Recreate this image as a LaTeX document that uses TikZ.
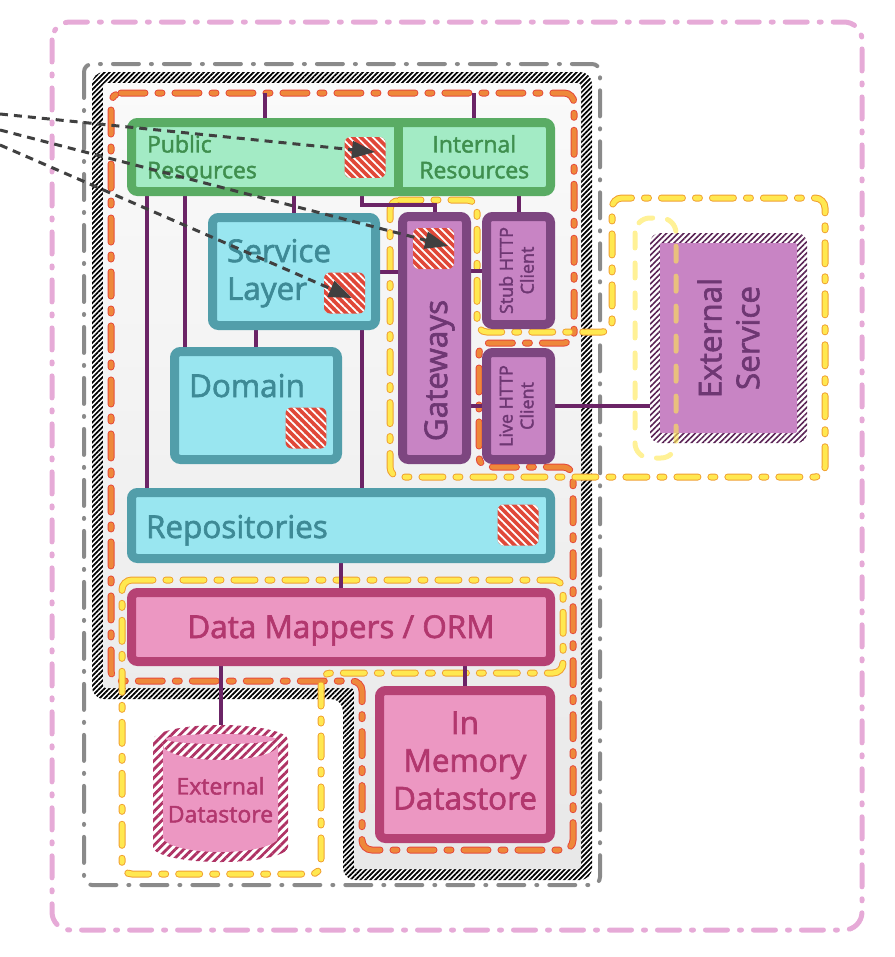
\documentclass[tikz,border=0pt]{standalone}
\usepackage{fontspec}
\setmainfont{Open Sans}[FakeBold=2]
\usepackage{tikz}
\usetikzlibrary{arrows.meta}
\usetikzlibrary{patterns.meta}
\definecolor{greenLine}{HTML}{5AAC64}
\definecolor{greenFill}{HTML}{A3EBC5}
\definecolor{greenInk}{HTML}{3F8F4E}
\definecolor{tealLine}{HTML}{529EAA}
\definecolor{tealFill}{HTML}{99E6F0}
\definecolor{tealInk}{HTML}{3E8A96}
\definecolor{purpleLine}{HTML}{7D4680}
\definecolor{purpleFill}{HTML}{C884C4}
\definecolor{purpleInk}{HTML}{6E3773}
\definecolor{pinkLine}{HTML}{B64274}
\definecolor{pinkFill}{HTML}{EC97C2}
\definecolor{pinkInk}{HTML}{B2376E}
\definecolor{wireInk}{HTML}{6B2466}
\definecolor{tagRed}{HTML}{E04838}
\definecolor{arrowInk}{HTML}{404040}
\definecolor{hatchPurple}{HTML}{5A2355}
\definecolor{hatchPink}{HTML}{AF3264}
\definecolor{grayDash}{HTML}{8A8A8A}
\definecolor{pinkDash}{HTML}{E6AAD7}
\definecolor{orangeDash}{HTML}{EE883A}
\definecolor{redEdge}{HTML}{E5493A}
\definecolor{yellowDash}{HTML}{FFE850}
\definecolor{yellowEdge}{HTML}{F0A030}
\definecolor{insideTop}{HTML}{FAFAFA}
\definecolor{insideBottom}{HTML}{E8E8E8}
\newcommand{\bigFont}{\fontsize{17.9}{21.5}\selectfont}
\newcommand{\midFont}{\fontsize{13.1}{14.7}\selectfont}
\newcommand{\smallFont}{\fontsize{10.2}{11.9}\selectfont}
\newcommand{\layerBox}[6]{%%
  %% A box given by the centre line of its border.
  \node[#1,minimum width={(#5-#3)*0.02cm},minimum height={(#6-#4)*0.02cm}] (#2) at ({(#3+#5)/2},{(#4+#6)/2}) {};
}
\newcommand{\redTag}[3]{%%
  %% A small striped marker.
  \node[tagStyle] (#1) at (#2,#3) {};
}
\newcommand{\systemBorder}{%%
  %% The hatched border round the system.
  \fill[white,rounded corners=0.24cm] (92,72) -- (592,72) -- (592,880) -- (343,880) -- (343,699) -- (92,699) -- cycle;
  \fill[hatchBlack,rounded corners=0.24cm] (92,72) -- (592,72) -- (592,880) -- (343,880) -- (343,699) -- (92,699) -- cycle;
  \shade[top color=insideTop,bottom color=insideBottom,rounded corners=0.06cm] (103,83) -- (581,83) -- (581,869) -- (354,869) -- (354,688) -- (103,688) -- cycle;
}
\newcommand{\externalDatastore}{%%
  %% The striped cylinder.
  \fill[white] (153,740) arc[start angle=180,end angle=360,x radius=67.5,y radius=15] -- (288,847) arc[start angle=0,end angle=180,x radius=67.5,y radius=15] -- cycle;
  \fill[hatchCylinder] (153,740) arc[start angle=180,end angle=360,x radius=67.5,y radius=15] -- (288,847) arc[start angle=0,end angle=180,x radius=67.5,y radius=15] -- cycle;
  \fill[pinkFill] (163,745) arc[start angle=180,end angle=0,x radius=57.5,y radius=15] -- (278,837) arc[start angle=0,end angle=180,x radius=57.5,y radius=15] -- cycle;
  \fill[pinkFill] (220.5,739) ellipse[x radius=55,y radius=5];
}
\pgfdeclarelayer{back}
\pgfdeclarelayer{wires}
\pgfsetlayers{back,wires,main}

\begin{document}
\begin{tikzpicture}[%%
  x=0.02cm,y=-0.02cm,%%
  boxStyle/.style={line width=0.18cm,rounded corners=0.12cm,inner sep=0pt,outer sep=0pt},%%
  greenFillStyle/.style={fill=greenFill,inner sep=0pt,outer sep=0pt},%%
  greenFrame/.style={draw=greenLine,line width=0.18cm,rounded corners=0.12cm},%%
  tealStyle/.style={boxStyle,draw=tealLine,fill=tealFill},%%
  purpleStyle/.style={boxStyle,draw=purpleLine,fill=purpleFill},%%
  pinkStyle/.style={boxStyle,draw=pinkLine,fill=pinkFill},%%
  plainStyle/.style={inner sep=0pt,outer sep=0pt},%%
  hatchOuter/.style={plainStyle,fill=white,rounded corners=0.2cm,%%
    postaction={pattern={Lines[angle=45,distance=2.3pt,line width=0.9pt]},pattern color=hatchPurple}},%%
  extBody/.style={plainStyle,fill=purpleFill,rounded corners=0.04cm},%%
  tagStyle/.style={plainStyle,minimum size=0.82cm,fill=tagRed,rounded corners=0.12cm,%%
    postaction={pattern={Lines[angle=-45,distance=3.2pt,line width=1pt]},pattern color=white}},%%
  hatchBlack/.style={pattern={Lines[angle=45,distance=2pt,line width=1pt]},pattern color=black},%%
  hatchCylinder/.style={pattern={Lines[angle=45,distance=3.4pt,line width=1.6pt]},pattern color=hatchPink},%%
  textStyle/.style={inner sep=0pt,outer sep=0pt},%%
  greenText/.style={textStyle,text=greenInk,font=\midFont},%%
  tealText/.style={textStyle,text=tealInk,font=\bigFont},%%
  purpleText/.style={textStyle,text=purpleInk,font=\bigFont},%%
  pinkText/.style={textStyle,text=pinkInk,font=\bigFont},%%
  wireStyle/.style={draw=wireInk,line width=0.08cm},%%
  arrowStyle/.style={draw=arrowInk,line width=0.06cm,dash pattern=on 0.16cm off 0.12cm,-{Triangle[length=0.46cm,width=0.34cm]}},%%
  pinkBorder/.style={draw=pinkDash,line width=0.1cm,line cap=round,rounded corners=0.36cm,%%
    dash pattern=on 0.44cm off 0.24cm on 0.04cm off 0.24cm},%%
  grayBorder/.style={draw=grayDash,line width=0.08cm,line cap=round,rounded corners=0.16cm,%%
    dash pattern=on 0.52cm off 0.24cm on 0.02cm off 0.24cm},%%
  orangeDashes/.style={line cap=round,dash pattern=on 0.48cm off 0.26cm on 0.08cm off 0.26cm},%%
  yellowDashes/.style={line cap=round,dash pattern=on 0.42cm off 0.26cm on 0.08cm off 0.26cm},%%
  orangeBorder/.style={draw=orangeDash,line width=0.1cm,orangeDashes,rounded corners=0.2cm,%%
    preaction={draw=redEdge,line width=0.14cm,orangeDashes}},%%
  yellowBorder/.style={draw=yellowDash,line width=0.1cm,yellowDashes,rounded corners=0.2cm,%%
    preaction={draw=yellowEdge,line width=0.14cm,yellowDashes}},%%
  paleBorder/.style={draw=yellowDash,draw opacity=0.6,line width=0.1cm,line cap=round,rounded corners=0.3cm,%%
    dash pattern=on 0.3cm off 0.3cm}%%
]
%%
%%
\useasboundingbox (0,0) rectangle (894,957);
%% Points outside the boxes.
\coordinate (sysTop) at (0,93);
\coordinate (srcPublic) at (0,114);
\coordinate (srcGateways) at (0,130);
\coordinate (srcService) at (0,145);
%%
%%
%% The boundaries.
\begin{pgfonlayer}{back}
\draw[pinkBorder] (52,22) rectangle (862,930);
\draw[grayBorder] (84,64) rectangle (600,885);
\systemBorder
\draw[orangeBorder] (111,93) -- (574,93) -- (574,343) -- (479,343) -- (479,467) -- (573,467) -- (573,850) -- (362,850) -- (362,681) -- (111,681) -- cycle;
\draw[yellowBorder] (390,200) -- (477,200) -- (477,332) -- (612,332) -- (612,198) -- (825,198) -- (825,477) -- (390,477) -- cycle;
\draw[yellowBorder] (122,580) -- (563,580) -- (563,673) -- (321,673) -- (321,874) -- (122,874) -- cycle;
\end{pgfonlayer}
%% The resources.
\layerBox{greenFillStyle}{public}{131.5}{122.5}{398}{191.5}
\layerBox{greenFillStyle}{internal}{398}{122.5}{550.5}{191.5}
\draw[greenFrame] (public.north west) rectangle (internal.south east);
\draw[greenFrame,rounded corners=0] (public.north east) -- (public.south east);
%% The layers.
\layerBox{tealStyle}{service}{212.5}{217.5}{375.5}{325.5}
\layerBox{tealStyle}{domain}{174.5}{351.5}{337.5}{459.5}
\layerBox{purpleStyle}{gateways}{402.5}{216.5}{466.5}{459.5}
\layerBox{purpleStyle}{stub}{486.5}{216.5}{550.5}{324.5}
\layerBox{purpleStyle}{live}{486.5}{352.5}{550.5}{459.5}
\layerBox{tealStyle}{repos}{131.5}{492.5}{550.5}{558.5}
\layerBox{pinkStyle}{mappers}{131.5}{592.5}{550.5}{661.5}
\layerBox{pinkStyle}{inmem}{379.5}{690.5}{550.5}{838.5}
%% The outside world.
\layerBox{hatchOuter}{extsvc}{650}{233}{807}{443}
\layerBox{extBody}{extsvcBody}{660}{243}{797}{433}
\layerBox{plainStyle}{extds}{153}{725}{288}{862}
\externalDatastore
%% The markers.
\redTag{publicTag}{365}{157.5}
\redTag{gatewaysTag}{433.5}{248.5}
\redTag{serviceTag}{344.5}{293}
\redTag{domainTag}{306}{428}
\redTag{reposTag}{518}{525}
%% The labels.
\node[greenText,anchor=north west,align=left] (publicText) at ([shift={(15.5,12.5)}]public.north west) {Public\\Resources};
\node[greenText,anchor=north,align=center] (internalText) at ([shift={(0,12.5)}]internal.north) {Internal\\Resources};
\node[tealText,anchor=north west,align=left] (serviceText) at ([shift={(14.5,21.5)}]service.north west) {Service\\Layer};
\node[tealText,anchor=base west] (domainText) at ([shift={(14.5,45.5)}]domain.north west) {Domain};
\node[tealText,anchor=base west] (reposText) at ([shift={(14.5,45.5)}]repos.north west) {Repositories};
\node[pinkText,anchor=base] (mappersText) at ([shift={(0,45.5)}]mappers.north) {Data Mappers / ORM};
\node[pinkText,anchor=north,align=center] (inmemText) at ([shift={(0,21)}]inmem.north) {In\\Memory\\Datastore};
\node[pinkText,font=\fontsize{13.1}{15.9}\selectfont,anchor=north,align=center] (extdsText) at ([shift={(0,52)}]extds.north) {External\\Datastore};
\node[purpleText,rotate=90] (gatewaysText) at ([shift={(5,32.5)}]gateways.center) {Gateways};
\node[purpleText,font=\smallFont,rotate=90,align=center] (stubText) at ([shift={(-2,0)}]stub.center) {Stub HTTP\\Client};
\node[purpleText,font=\smallFont,rotate=90,align=center] (liveText) at ([shift={(-2,0)}]live.center) {Live HTTP\\Client};
\node[purpleText,rotate=90,align=center] (extsvcText) at (extsvcBody.center) {External\\Service};
%%
%%
%% The connectors.
\begin{pgfonlayer}{wires}
\coordinate (reposTap) at ([shift={(15.5,0)}]repos.north west);
\coordinate (domainTap) at ([shift={(10.5,0)}]domain.north west);
\coordinate (serviceTap) at ([shift={(-13.5,0)}]service.south east);
\coordinate (publicTap) at ([shift={(-36,0)}]public.south east);
\draw[wireStyle] (public.north) -- (public.north |- sysTop);
\draw[wireStyle] (internal.north) -- (internal.north |- sysTop);
\draw[wireStyle] (reposTap) -- (reposTap |- public.south);
\draw[wireStyle] (domainTap) -- (domainTap |- public.south);
\draw[wireStyle] (service.north) -- (service.north |- public.south);
\draw[wireStyle] (gateways.north) -- ++(0,-11.5) -| (publicTap);
\draw[wireStyle] (stub.north) -- (stub.north |- internal.south);
\draw[wireStyle] (service.east) -- (service.east -| gateways.west);
\draw[wireStyle] (domain.north) -- (domain.north |- service.south);
\draw[wireStyle] (serviceTap) -- (serviceTap |- repos.north);
\draw[wireStyle] (stub.west) -- (stub.west -| gateways.east);
\draw[wireStyle] (live.west) -- (live.west -| gateways.east);
\draw[wireStyle] (live.east) -- (live.east -| extsvc.west);
\draw[wireStyle] (repos.south) -- (mappers.north);
\draw[wireStyle] (extds.north) -- (extds.north |- mappers.south);
\draw[wireStyle] (inmem.north) -- (inmem.north |- mappers.south);
\end{pgfonlayer}
%% The requests from outside.
\draw[arrowStyle] (srcPublic) -- ([shift={(10,-5.5)}]publicTag.center);
\draw[arrowStyle] (srcGateways) -- ([shift={(14.5,-2.5)}]gatewaysTag.center);
\draw[arrowStyle] (srcService) -- ([shift={(7.5,5)}]serviceTag.center);
%% The faded group round the external service.
\draw[paleBorder] (635,218) rectangle (676,458);
\end{tikzpicture}
\end{document}
